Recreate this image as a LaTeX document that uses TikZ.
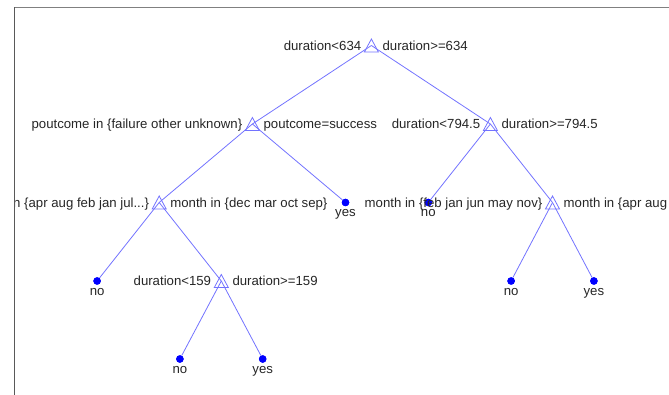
\documentclass[tikz,border=0pt]{standalone}
\usepackage{fontspec}
\setmainfont{Liberation Sans}
\usepackage{tikz}

\definecolor{edgeblue}{RGB}{115,115,255}
\definecolor{leafblue}{RGB}{0,0,255}

\begin{document}
\begin{tikzpicture}[x=1pt,y=-1pt,font=\fontsize{13.2}{15}\selectfont]
  \useasboundingbox (0,0) rectangle (669,395);
  \tikzstyle{edge} = [draw=edgeblue, line width=0.8pt]
  \tikzstyle{split} = [inner sep=0pt, minimum size=0pt]
  \tikzstyle{leaf} = [circle, fill=leafblue, inner sep=0pt, minimum size=7.5pt, label={[lbl, label distance=3pt]below:#1}]
  \tikzstyle{lbl} = [inner sep=0pt, text=black!85]
  \tikzstyle{lside} = [lbl, anchor=base east]
  \tikzstyle{rside} = [lbl, anchor=base west]
  \tikzset{marker/.pic={\draw[edge] (-7,6.5) -- (7,6.5) -- (0,-6.5) -- cycle;}}
  \begin{scope}
    \clip (14.3,7.3) rectangle (669,395);
    % split points
    \node[split] (root) at (371.4,45.5) {};
    \node[split] (pout) at (252.4,124) {};
    \node[split] (dur2) at (490.4,124) {};
    \node[split] (mon1) at (159.2,202.5) {};
    \node[split] (mon2) at (552.5,202.5) {};
    \node[split] (dur3) at (221.3,281) {};
    % leaves
    \node[leaf=yes] (yes1) at (345.5,202.5) {};
    \node[leaf=no]  (no1)  at (428.3,202.5) {};
    \node[leaf=no]  (no2)  at (97.1,281) {};
    \node[leaf=no]  (no3)  at (511.1,281) {};
    \node[leaf=yes] (yes2) at (593.9,281) {};
    \node[leaf=no]  (no4)  at (179.9,359) {};
    \node[leaf=yes] (yes3) at (262.7,359) {};
    % branches
    \draw[edge] (root.center) -- (pout.center);
    \draw[edge] (root.center) -- (dur2.center);
    \draw[edge] (pout.center) -- (mon1.center);
    \draw[edge] (pout.center) -- (yes1);
    \draw[edge] (dur2.center) -- (no1);
    \draw[edge] (dur2.center) -- (mon2.center);
    \draw[edge] (mon1.center) -- (no2);
    \draw[edge] (mon1.center) -- (dur3.center);
    \draw[edge] (mon2.center) -- (no3);
    \draw[edge] (mon2.center) -- (yes2);
    \draw[edge] (dur3.center) -- (no4);
    \draw[edge] (dur3.center) -- (yes3);
    \foreach \n in {root,pout,dur2,mon1,mon2,dur3}
      \pic at (\n) {marker};
    \foreach \n in {yes1,no1,no2,no3,yes2,no4,yes3}
      \fill[leafblue] (\n) circle (3.75pt);
    % split labels
    \node[lside] (root-l) at ([xshift=-10pt,yshift=-5pt]root) {duration<634};
    \node[rside] (root-r) at ([xshift=11pt,yshift=-5pt]root) {duration>=634};
    \node[lside] (pout-l) at ([xshift=-10pt,yshift=-5pt]pout) {poutcome in \{failure other unknown\}};
    \node[rside] (pout-r) at ([xshift=11pt,yshift=-5pt]pout) {poutcome=success};
    \node[lside] (dur2-l) at ([xshift=-10pt,yshift=-5pt]dur2) {duration<794.5};
    \node[rside] (dur2-r) at ([xshift=11pt,yshift=-5pt]dur2) {duration>=794.5};
    \node[lside] (mon1-l) at ([xshift=-10pt,yshift=-5pt]mon1) {month in \{apr aug feb jan jul...\}};
    \node[rside] (mon1-r) at ([xshift=11pt,yshift=-5pt]mon1) {month in \{dec mar oct sep\}};
    \node[lside] (mon2-l) at ([xshift=-10pt,yshift=-5pt]mon2) {month in \{feb jan jun may nov\}};
    \node[rside] (mon2-r) at ([xshift=11pt,yshift=-5pt]mon2) {month in \{apr aug dec jul mar...\}};
    \node[lside] (dur3-l) at ([xshift=-10pt,yshift=-5pt]dur3) {duration<159};
    \node[rside] (dur3-r) at ([xshift=11pt,yshift=-5pt]dur3) {duration>=159};
  \end{scope}
  % axes box
  \draw[black!50, line width=1.5pt] (14.3,7.3) -- (669,7.3);
  \draw[black!65, line width=1.3pt] (14.3,395) -- (14.3,6.55);
\end{tikzpicture}
\end{document}
